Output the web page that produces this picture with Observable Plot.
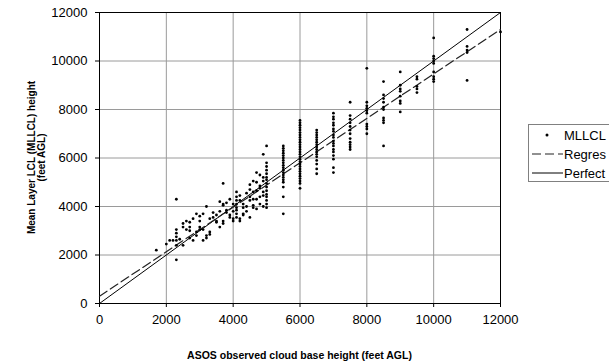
<!DOCTYPE html>
<html>
<head>
<meta charset="utf-8">
<script src="https://cdn.jsdelivr.net/npm/d3@7"></script>
<script src="https://cdn.jsdelivr.net/npm/@observablehq/plot@0.6"></script>
<style>
html, body { margin: 0; padding: 0; background: #fff; overflow: hidden; }
#wrap { position: relative; width: 609px; height: 364px; font-family: "Liberation Sans", Arial, sans-serif; }
#legend { position: absolute; left: 528px; top: 124px; width: 100px; height: 56px; border: 1px solid #808080; background: #fff; }
</style>
</head>
<body>
<div id="wrap"><div id="chart"></div><div id="legend"></div></div>
<script>
// ASOS observed cloud base height (x, feet AGL) and the MLLCL heights observed at each (y, feet AGL)
const asosFt = [
  1700, 2000, 2100, 2200, 2300, 2400, 2500, 2600, 2700, 2800, 2900,
  3000, 3100, 3200, 3300, 3400, 3500, 3600, 3700, 3800, 3900,
  4000, 4100, 4200, 4300, 4400, 4500, 4600, 4700, 4800, 4900,
  5000, 5500, 6000, 6500, 7000, 7500, 8000, 8500, 9000, 9500, 10000, 11000, 12000
];
const mllclFt = [
  [2200], [2450], [2600], [2600], [3050, 2900, 2750, 2600, 2400, 4300, 1800], [2650],
  [3300, 3150, 2400], [3050, 3400], [3350, 3150, 3000, 2700], [2600, 3500], [2800, 2950, 3700],
  [3050, 3150, 3400, 3600], [2600, 3700, 3050], [2700, 2800, 4000], [2850, 2950, 3500],
  [3750, 3550], [3400, 3650, 3350], [3150, 4200, 3800], [3300, 3400, 4100, 4050, 4950],
  [3850, 3750, 4150], [3650, 3550, 4300],
  [3400, 3500, 4100, 3800], [3700, 3850, 3950, 4100, 4250, 4400, 4600, 3550],
  [4450, 4250, 3400, 3500], [4100, 3950, 3650, 3700], [4550, 4000, 3800],
  [4400, 4250, 3550, 4700, 4900], [4050, 3950, 5050, 4600, 4300], [3900, 4650, 5000, 4300, 5400],
  [4850, 4750, 4400, 4100, 5300], [4600, 4450, 5200, 5050, 6150, 4000],
  [6500, 5800, 5650, 5500, 5350, 5200, 5100, 4950, 4800, 4650, 4500, 4400, 4250, 4100, 3950],
  [6500, 6400, 6300, 6200, 6100, 6000, 5900, 5800, 5700, 5600, 5500, 5400, 5300, 5200, 5100, 5000, 4800, 4400, 3700],
  [7550, 7450, 7350, 7250, 7150, 7050, 6950, 6850, 6750, 6650, 6550, 6450, 6350, 6250, 6150, 6050, 5950, 5850, 5750, 5650, 5550, 5450, 5350, 5250, 5150, 5050, 4950, 4750],
  [7150, 7050, 6950, 6850, 6750, 6650, 6550, 6450, 6350, 6250, 6150, 6050, 5900, 5750, 5550, 5350],
  [7850, 7700, 7600, 7450, 7350, 7200, 7100, 6950, 6850, 6700, 6600, 6500, 6350, 6250, 6100, 5950, 5600, 5400],
  [8300, 7750, 7600, 7450, 7300, 7150, 7000, 6800, 6650, 6550, 6450, 6350],
  [9700, 8300, 8150, 8050, 7950, 7850, 7400, 7300, 7200, 7000],
  [9150, 8600, 8450, 8300, 8100, 8000, 7650, 7550, 7450, 6500],
  [9550, 9000, 8850, 8750, 8550, 8350, 8250, 7900],
  [9350, 9250, 8950, 8850, 8700],
  [10950, 10200, 10100, 10000, 9900, 9550, 9350, 9250, 9150],
  [11300, 10600, 10450, 10350, 9200],
  [11200]
];
// Regression line and perfect (1:1) line endpoints
const regresX = [0, 12000];
const regresY = [300, 11300];
const perfectX = [0, 12000];
const perfectY = [0, 12000];
// Axis ticks
const xTicks = [0, 2000, 4000, 6000, 8000, 10000, 12000];
const yTicks = [0, 2000, 4000, 6000, 8000, 10000, 12000];
const legendLabels = ["MLLCL", "Regres", "Perfect"];
const xTitle = "ASOS observed cloud base height (feet AGL)";
const yTitleLines = ["Mean Layer LCL (MLLCL) height", "(feet AGL)"];

const points = asosFt.flatMap((x, i) => mllclFt[i].map(y => ({x, y})));
const regres = regresX.map((x, i) => ({x, y: regresY[i]}));
const perfect = perfectX.map((x, i) => ({x, y: perfectY[i]}));

const font = '"Liberation Sans", Arial, sans-serif';
const W = 609, H = 364, mL = 99, mR = 109, mT = 12, mB = 61;
const chart = Plot.plot({
  width: W,
  height: H,
  marginLeft: mL,
  marginRight: mR,
  marginTop: mT,
  marginBottom: mB,
  style: {fontFamily: font, fontSize: "13px", background: "#fff", color: "#000", overflow: "visible"},
  x: {domain: [0, 12000]},
  y: {domain: [0, 12000]},
  marks: [
    Plot.gridX(xTicks, {stroke: "#9a9a9a", strokeOpacity: 1}),
    Plot.gridY(yTicks, {stroke: "#9a9a9a", strokeOpacity: 1}),
    Plot.frame({stroke: "#000"}),
    Plot.line(perfect, {x: "x", y: "y", stroke: "#000", strokeWidth: 1}),
    Plot.line(regres, {x: "x", y: "y", stroke: "#222", strokeWidth: 1.2, strokeDasharray: "9,4"}),
    Plot.dot(points, {x: "x", y: "y", r: 1.4, fill: "#000", stroke: null}),
    Plot.axisX({ticks: xTicks, tickSize: 4, tickPadding: 7, tickFormat: d => String(d), label: null, fontSize: 13}),
    Plot.axisY({ticks: yTicks, tickSize: 4, tickPadding: 8, tickFormat: d => String(d), label: null, fontSize: 13})
  ]
});
document.getElementById("chart").appendChild(chart);

// Axis titles
const svg = d3.select(chart.tagName.toLowerCase() === "svg" ? chart : chart.querySelector("svg"));
const cx = (mL + (W - mR)) / 2, cy = (mT + (H - mB)) / 2;
svg.append("text")
  .attr("x", cx).attr("y", 355).attr("dy", "0.35em")
  .attr("text-anchor", "middle")
  .style("font-family", font).style("font-size", "10.5px").style("font-weight", "bold")
  .text(xTitle);
const yt = svg.append("text")
  .attr("transform", `translate(36.5,${cy}) rotate(-90)`)
  .attr("text-anchor", "middle")
  .style("font-family", font).style("font-size", "10px").style("font-weight", "bold");
yTitleLines.forEach((line, i) => {
  yt.append("tspan").attr("x", 0).attr("y", (i - (yTitleLines.length - 1) / 2) * 10.5).attr("dy", "0.35em").text(line);
});

// Legend
const lg = d3.select("#legend").append("svg").attr("width", 100).attr("height", 56)
  .style("font-family", font).style("font-size", "13px");
const rowY = [10, 29, 48];
legendLabels.forEach((lab, i) => {
  const g = lg.append("g").attr("transform", `translate(0,${rowY[i]})`);
  if (i === 0) g.append("circle").attr("cx", 18).attr("cy", 0).attr("r", 1.5).attr("fill", "#000");
  if (i === 1) g.append("line").attr("x1", 3).attr("x2", 34).attr("stroke", "#222").attr("stroke-width", 1.2).attr("stroke-dasharray", "9,4");
  if (i === 2) g.append("line").attr("x1", 3).attr("x2", 34).attr("stroke", "#000");
  g.append("text").attr("x", 35).attr("dy", "0.35em").text(lab);
});
</script>
</body>
</html>
